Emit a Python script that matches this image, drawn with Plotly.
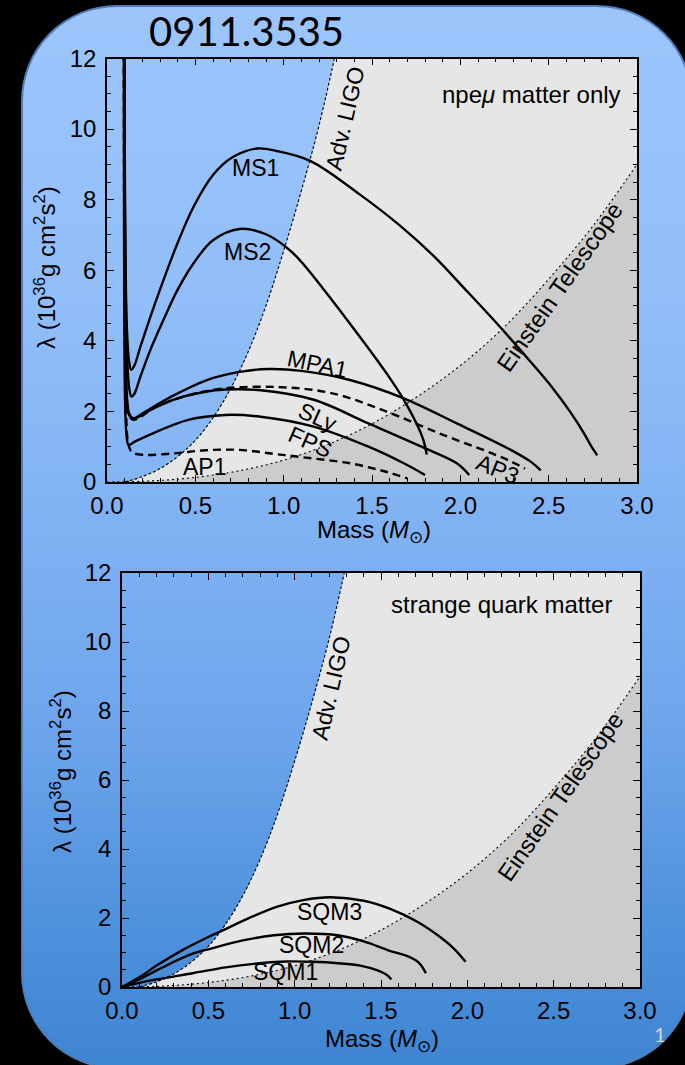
import base64
import plotly.graph_objects as go

# ---------------- data: tidal deformability lambda vs. mass ----------------
# detector sensitivity boundaries (same in both panels)
LIGO_M = [0.10, 0.20, 0.30, 0.40, 0.50, 0.60, 0.70, 0.80, 0.90, 1.00, 1.10, 1.20, 1.30, 1.34]
LIGO_L = [0.00, 0.15, 0.38, 0.72, 1.18, 1.82, 2.65, 3.70, 5.00, 6.55, 8.25, 10.1, 12.3, 13.3]

ET_M = [0.00, 0.25, 0.50, 0.75, 1.00, 1.25, 1.50, 1.75, 2.00, 2.25, 2.50, 2.75, 3.00]
ET_L = [0.00, 0.03, 0.13, 0.32, 0.62, 1.06, 1.65, 2.40, 3.30, 4.40, 5.75, 7.25, 9.00]

# npe-mu matter equations of state
MS1_M = [0.098, 0.102, 0.107, 0.114, 0.124, 0.137, 0.155, 0.19, 0.24, 0.30, 0.39, 0.49, 0.60,
         0.71, 0.85, 0.96, 1.15, 1.43, 1.65, 1.85, 2.02, 2.22, 2.39, 2.52, 2.62, 2.70, 2.745, 2.775]
MS1_L = [12.5, 8.0, 5.5, 4.2, 3.45, 3.18, 3.3, 3.85, 4.6, 5.45, 6.65, 7.8, 8.7,
         9.2, 9.45, 9.38, 9.1, 8.15, 7.3, 6.4, 5.5, 4.42, 3.45, 2.68, 2.0, 1.38, 0.98, 0.76]

MS2_M = [0.098, 0.102, 0.108, 0.116, 0.126, 0.138, 0.155, 0.19, 0.25, 0.32, 0.40, 0.49, 0.60,
         0.75, 0.90, 1.05, 1.22, 1.35, 1.50, 1.60, 1.68, 1.75, 1.79, 1.81]
MS2_L = [12.5, 7.0, 4.5, 3.3, 2.65, 2.42, 2.5, 3.0, 3.8, 4.6, 5.45, 6.2, 6.85,
         7.17, 7.02, 6.5, 5.5, 4.65, 3.65, 2.95, 2.33, 1.68, 1.2, 0.78]

MPA1_M = [0.098, 0.100, 0.105, 0.112, 0.125, 0.15, 0.203, 0.364, 0.566, 0.75, 0.91, 1.10,
          1.375, 1.68, 1.98, 2.285, 2.40, 2.455]
MPA1_L = [12.5, 6.0, 3.5, 2.5, 1.95, 1.8, 1.95, 2.42, 2.89, 3.12, 3.2, 3.15,
          2.89, 2.37, 1.66, 0.91, 0.57, 0.33]

AP3_M = [0.098, 0.100, 0.105, 0.112, 0.125, 0.15, 0.28, 0.47, 0.66, 0.97, 1.27, 1.58,
         1.88, 2.18, 2.30, 2.366]
AP3_L = [12.5, 6.0, 3.4, 2.35, 1.88, 1.76, 2.14, 2.47, 2.65, 2.69, 2.52, 2.0,
         1.38, 0.81, 0.55, 0.38]

SLY_M = [0.098, 0.100, 0.105, 0.112, 0.125, 0.15, 0.25, 0.375, 0.55, 0.67, 0.87, 1.17,
         1.48, 1.78, 1.98, 2.05]
SLY_L = [12.5, 6.0, 3.4, 2.35, 1.9, 1.8, 2.05, 2.33, 2.55, 2.62, 2.6, 2.33,
         1.66, 1.0, 0.53, 0.2]

FPS_M = [0.095, 0.097, 0.100, 0.105, 0.112, 0.122, 0.16, 0.26, 0.46, 0.668, 0.87, 1.17,
         1.48, 1.68, 1.80]
FPS_L = [12.5, 6.0, 3.0, 1.8, 1.25, 1.05, 1.15, 1.38, 1.76, 1.9, 1.85, 1.57,
         1.0, 0.53, 0.2]

AP1_M = [0.095, 0.098, 0.103, 0.11, 0.12, 0.14, 0.205, 0.375, 0.56, 0.75, 0.94, 1.11,
         1.375, 1.58, 1.70]
AP1_L = [12.5, 6.0, 3.0, 1.7, 1.1, 0.85, 0.77, 0.81, 0.9, 0.91, 0.8, 0.70,
         0.53, 0.29, 0.10]

# strange quark matter equations of state
SQM3_M = [0.0, 0.1, 0.2, 0.35, 0.5, 0.6, 0.75, 0.9, 1.05, 1.21, 1.4, 1.55, 1.71, 1.85, 1.925, 1.99]
SQM3_L = [0.0, 0.28, 0.62, 1.07, 1.45, 1.68, 2.03, 2.33, 2.52, 2.6, 2.5, 2.27, 1.89, 1.42, 1.1, 0.73]

SQM2_M = [0.0, 0.1, 0.2, 0.39, 0.52, 0.7, 0.88, 1.06, 1.25, 1.40, 1.55, 1.66, 1.72, 1.76]
SQM2_L = [0.0, 0.22, 0.48, 0.93, 1.12, 1.35, 1.5, 1.55, 1.5, 1.32, 1.05, 0.88, 0.7, 0.40]

SQM1_M = [0.0, 0.1, 0.2, 0.41, 0.6, 0.8, 0.95, 1.1, 1.25, 1.38, 1.48, 1.53, 1.56]
SQM1_L = [0.0, 0.12, 0.22, 0.4, 0.57, 0.69, 0.74, 0.73, 0.69, 0.62, 0.48, 0.36, 0.22]

X_RANGE = [0.0, 3.0]
Y_RANGE = [0.0, 12.0]
X_TICKS = [0.0, 0.5, 1.0, 1.5, 2.0, 2.5, 3.0]
Y_TICKS = [0, 2, 4, 6, 8, 10, 12]

# ---------------- styling ----------------
W, H = 685, 1065
FONT = "Liberation Sans, Arial, Helvetica, sans-serif"
LIGHT_GRAY = "#e6e6e6"
DARK_GRAY = "#cccccc"

fig = go.Figure()


def add_panel(xa, ya, solid, dashed):
    common = dict(xaxis=xa, yaxis=ya, hoverinfo="skip", showlegend=False, mode="lines")
    # right-hand edge of the panel, used to close the Adv. LIGO region
    fig.add_trace(go.Scatter(x=[X_RANGE[1], X_RANGE[1]], y=[Y_RANGE[0], LIGO_L[-1] + 0.2],
                             line=dict(width=0), **common))
    fig.add_trace(go.Scatter(x=LIGO_M, y=LIGO_L, line=dict(width=0, shape="spline"),
                             fill="tonextx", fillcolor=LIGHT_GRAY, **common))
    fig.add_trace(go.Scatter(x=ET_M, y=ET_L, line=dict(width=0, shape="spline"),
                             fill="tozeroy", fillcolor=DARK_GRAY, **common))
    fig.add_trace(go.Scatter(x=LIGO_M, y=LIGO_L,
                             line=dict(color="black", width=1.1, dash="3px,2px", shape="spline"),
                             **common))
    fig.add_trace(go.Scatter(x=ET_M, y=ET_L,
                             line=dict(color="black", width=1.1, dash="2px,3px", shape="spline"),
                             **common))
    for mx, ly in dashed:
        fig.add_trace(go.Scatter(x=mx, y=ly,
                                 line=dict(color="black", width=2.4, dash="8px,5px",
                                           shape="spline", smoothing=1.0), **common))
    for mx, ly in solid:
        fig.add_trace(go.Scatter(x=mx, y=ly,
                                 line=dict(color="black", width=2.4, shape="spline", smoothing=1.0),
                                 **common))


add_panel("x", "y",
          solid=[(MS1_M, MS1_L), (MS2_M, MS2_L), (MPA1_M, MPA1_L), (SLY_M, SLY_L), (FPS_M, FPS_L)],
          dashed=[(AP3_M, AP3_L), (AP1_M, AP1_L)])
add_panel("x2", "y2",
          solid=[(SQM3_M, SQM3_L), (SQM2_M, SQM2_L), (SQM1_M, SQM1_L)],
          dashed=[])

tickfont = dict(family=FONT, size=24, color="black")


def xaxis(domain, anchor):
    return dict(domain=domain, anchor=anchor, range=X_RANGE, tickvals=X_TICKS,
                ticktext=[f"{v:.1f}" for v in X_TICKS],
                ticks="inside", ticklen=7, tickwidth=1.2, tickcolor="black",
                showline=True, linecolor="black", linewidth=1.5, mirror="allticks",
                showgrid=False, zeroline=False, automargin=False, fixedrange=True,
                minor=dict(ticks="inside", dtick=0.1, tick0=0, ticklen=4, tickwidth=1,
                           tickcolor="black", showgrid=False),
                tickfont=tickfont, ticklabelstandoff=1)


def yaxis(domain, anchor):
    return dict(domain=domain, anchor=anchor, range=Y_RANGE, tickvals=Y_TICKS,
                ticks="inside", ticklen=7, tickwidth=1.2, tickcolor="black",
                showline=True, linecolor="black", linewidth=1.5, mirror="allticks",
                showgrid=False, zeroline=False, automargin=False, fixedrange=True,
                minor=dict(ticks="inside", dtick=0.5, tick0=0, ticklen=4, tickwidth=1,
                           tickcolor="black", showgrid=False),
                tickfont=tickfont, ticklabelstandoff=4)


TOP_X = [107 / W, 637 / W]
TOP_Y = [1 - 482 / H, 1 - 58.5 / H]
BOT_X = [122 / W, 640 / W]
BOT_Y = [1 - 987 / H, 1 - 573 / H]

# slide background: rounded panel with a vertical blue gradient
stops = [(0.0, "#9dc5fc"), (0.28, "#91bef8"), (0.52, "#7db0f2"),
         (0.69, "#6ca4eb"), (0.84, "#5294de"), (1.0, "#3e85d2")]
stop_xml = "".join(f'<stop offset="{o}" stop-color="{c}"/>' for o, c in stops)
svg = (f'<svg xmlns="http://www.w3.org/2000/svg" width="{W}" height="{H}" viewBox="0 0 {W} {H}">'
       f'<defs><linearGradient id="g" x1="0" y1="0" x2="0" y2="1">{stop_xml}</linearGradient></defs>'
       f'<rect x="22" y="6" width="670" height="1062" rx="95" ry="95" fill="url(#g)" '
       f'stroke="#4e7db8" stroke-width="2"/></svg>')
bg_src = "data:image/svg+xml;base64," + base64.b64encode(svg.encode()).decode()

lab = dict(family=FONT, size=23, color="black")
big = dict(family=FONT, size=24, color="black")
axis_title = dict(family=FONT, size=24, color="black")


def note(text, x, y, xref, yref, angle=0, xanchor="center", font=lab):
    return dict(text=text, x=x, y=y, xref=xref, yref=yref, textangle=angle,
                showarrow=False, xanchor=xanchor, yanchor="middle", font=font)


annotations = [
    # top panel
    note("MS1", 0.843, 8.9, "x", "y"),
    note("MS2", 0.796, 6.53, "x", "y"),
    note("MPA1", 1.19, 3.35, "x", "y", angle=12),
    note("SLy", 1.19, 1.83, "x", "y", angle=24),
    note("FPS", 1.15, 1.14, "x", "y", angle=24),
    note("AP1", 0.55, 0.43, "x", "y"),
    note("AP3", 2.21, 0.37, "x", "y", angle=22),
    note("Adv. LIGO", 1.345, 10.3, "x", "y", angle=-77),
    note("Einstein Telescope", 2.564, 5.53, "x", "y", angle=-55, font=big),
    note("npe<i>μ</i> matter only", 2.92, 10.98, "x", "y", xanchor="right", font=big),
    # bottom panel
    note("SQM3", 1.20, 2.18, "x2", "y2"),
    note("SQM2", 1.10, 1.22, "x2", "y2"),
    note("SQM1", 0.944, 0.43, "x2", "y2"),
    note("Adv. LIGO", 1.21, 8.67, "x2", "y2", angle=-77),
    note("Einstein Telescope", 2.54, 5.51, "x2", "y2", angle=-55, font=big),
    note("strange quark matter", 2.85, 11.1, "x2", "y2", xanchor="right", font=big),
    # axis titles
    note("Mass (<i>M</i><sub>⊙</sub>)", 374 / W, 1 - 532 / H, "paper", "paper", font=axis_title),
    note("Mass (<i>M</i><sub>⊙</sub>)", 382 / W, 1 - 1040 / H, "paper", "paper", font=axis_title),
    note("λ (10<sup>36</sup>g cm<sup>2</sup>s<sup>2</sup>)", 45 / W, 1 - 268 / H, "paper", "paper",
         angle=-90, font=axis_title),
    note("λ (10<sup>36</sup>g cm<sup>2</sup>s<sup>2</sup>)", 61 / W, 1 - 772 / H, "paper", "paper",
         angle=-90, font=axis_title),
    # slide heading and page number
    note("0911.3535", 246 / W, 1 - 31 / H, "paper", "paper",
         font=dict(family="Lato, Open Sans, sans-serif", size=40, color="black")),
    note("1", 660 / W, 1 - 1034 / H, "paper", "paper",
         font=dict(family="Lato, sans-serif", size=20, color="#d2d2d2")),
]

fig.update_layout(
    width=W, height=H,
    margin=dict(l=0, r=0, t=0, b=0),
    paper_bgcolor="black",
    plot_bgcolor="rgba(0,0,0,0)",
    showlegend=False,
    xaxis=xaxis(TOP_X, "y"),
    yaxis=yaxis(TOP_Y, "x"),
    xaxis2=xaxis(BOT_X, "y2"),
    yaxis2=yaxis(BOT_Y, "x2"),
    annotations=annotations,
    images=[dict(source=bg_src, xref="paper", yref="paper", x=0, y=1, sizex=1, sizey=1,
                 xanchor="left", yanchor="top", sizing="stretch", layer="below")],
)

fig.write_html("out.html", config={"displayModeBar": False})
